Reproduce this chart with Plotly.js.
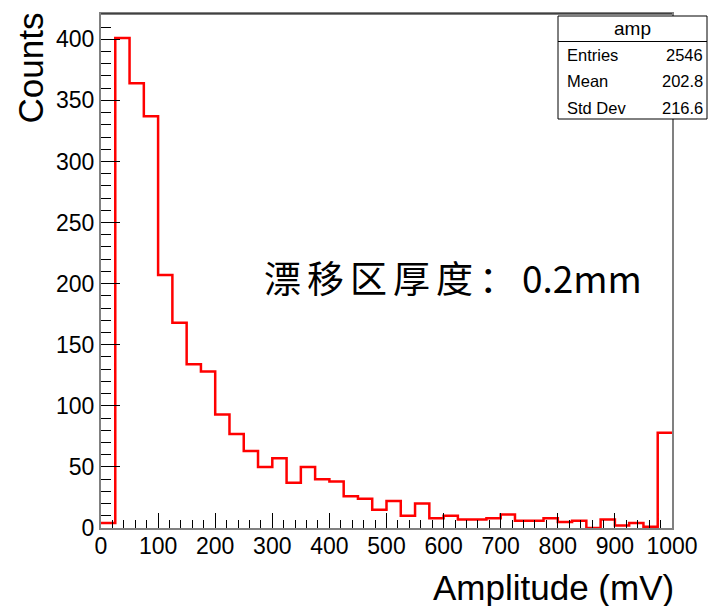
<!DOCTYPE html>
<html>
<head>
<meta charset="utf-8">
<script src="https://cdn.plot.ly/plotly-3.0.1.min.js"></script>
<style>html,body{margin:0;padding:0;background:#fff;}#chart{width:708px;height:606px;}</style>
</head>
<body>
<div id="chart"></div>
<script>
// ---- data ----
const binStart = 0;
const binWidth = 25;
const counts = [4, 401, 364, 337, 207, 168, 134, 128, 93, 77,
                63, 50, 57, 37, 50, 40, 38, 26, 24, 15,
                22, 10, 20, 8, 10, 7, 7, 8, 11, 6,
                6, 8, 5, 6, 0, 7, 2, 4, 1, 78];
const histName = "amp";
const statLabels = ["Entries", "Mean", "Std Dev"];
const statValues = ["2546", "202.8", "216.6"];
const xTitle = "Amplitude (mV)";
const yTitle = "Counts";
const noteCJK = "漂移区厚度：";
const noteLatin = "0.2mm";

// ---- geometry helpers (pixel -> paper) ----
const L = 101, R = 672, T = 14, B = 528;
const W = 708, H = 606;
const px = p => (p - L) / (R - L);
const py = p => (B - p) / (B - T);

const edges = counts.map((_, i) => binStart + i * binWidth);
edges.push(binStart + counts.length * binWidth);
const yStep = counts.concat([counts[counts.length - 1]]);

const trace = {
  x: edges, y: yStep, type: 'scatter', mode: 'lines',
  line: {shape: 'hv', color: '#ff0000', width: 2.5},
  hoverinfo: 'skip'
};

const font = 'Liberation Sans, Arial, Helvetica, sans-serif';
const ann = [];
ann.push({xref:'paper', yref:'paper', x: px(262), y: py(277), xanchor:'left', yanchor:'middle',
  text: '<span style="letter-spacing:6px">' + noteCJK + '</span>' + noteLatin, showarrow:false,
  font:{family:'Noto Sans CJK SC, Noto Sans, sans-serif', size:37, color:'#000'}});
ann.push({xref:'paper', yref:'paper', x: px(676), y: py(587), xanchor:'right', yanchor:'middle',
  text: xTitle, showarrow:false, font:{family:font, size:35, color:'#000'}});
ann.push({xref:'paper', yref:'paper', x: px(30), y: py(11), xanchor:'center', yanchor:'top', textangle:-90,
  text: yTitle, showarrow:false, font:{family:font, size:35, color:'#000'}});
// stats box texts
ann.push({xref:'paper', yref:'paper', x: px(632), y: py(28), xanchor:'center', yanchor:'middle',
  text: histName, showarrow:false, font:{family:font, size:19, color:'#000'}});
const rowY = [55, 81.5, 108];
statLabels.forEach((lab, i) => {
  ann.push({xref:'paper', yref:'paper', x: px(565), y: py(rowY[i]), xanchor:'left', yanchor:'middle',
    text: lab, showarrow:false, font:{family:font, size:16.5, color:'#000'}});
  ann.push({xref:'paper', yref:'paper', x: px(705), y: py(rowY[i]), xanchor:'right', yanchor:'middle',
    text: statValues[i], showarrow:false, font:{family:font, size:16.5, color:'#000'}});
});

const shapes = [
  {type:'line', xref:'paper', yref:'paper', x0:0, x1:1, y0:1, y1:1, line:{color:'#000', width:1}},
  {type:'rect', xref:'paper', yref:'paper', x0: px(558), x1: px(707), y0: py(119), y1: py(16),
    fillcolor:'#fff', line:{color:'#000', width:1}, layer:'above'},
  {type:'line', xref:'paper', yref:'paper', x0: px(558), x1: px(707), y0: py(41.5), y1: py(41.5),
    line:{color:'#000', width:1}, layer:'above'}
];

const layout = {
  width: W, height: H,
  margin: {l: L, r: W - R, t: T, b: H - B, pad: 0},
  paper_bgcolor: '#fff', plot_bgcolor: '#fff',
  showlegend: false,
  font: {family: font, color: '#000'},
  xaxis: {
    range: [0, 1000], tick0: 0, dtick: 100, ticks: 'inside', ticklen: 15, tickwidth: 1, tickcolor: '#000',
    minor: {dtick: 20, ticks: 'inside', ticklen: 8, tickwidth: 1, tickcolor: '#000'},
    showgrid: false, zeroline: false, showline: true, mirror: true, linecolor: '#808080', linewidth: 2,
    tickfont: {family: font, size: 23, color: '#000'}, ticklabelstandoff: -4, fixedrange: true
  },
  yaxis: {
    range: [0, 420.7], tick0: 0, dtick: 50, ticks: 'inside', ticklen: 19, tickwidth: 1, tickcolor: '#000',
    minor: {dtick: 10, ticks: 'inside', ticklen: 10, tickwidth: 1, tickcolor: '#000'},
    showgrid: false, zeroline: false, showline: true, mirror: true, linecolor: '#808080', linewidth: 2,
    tickfont: {family: font, size: 23, color: '#000'}, ticklabelstandoff: 0, fixedrange: true
  },
  annotations: ann,
  shapes: shapes
};

Plotly.newPlot('chart', [trace], layout, {displayModeBar: false, staticPlot: true});
</script>
</body>
</html>
